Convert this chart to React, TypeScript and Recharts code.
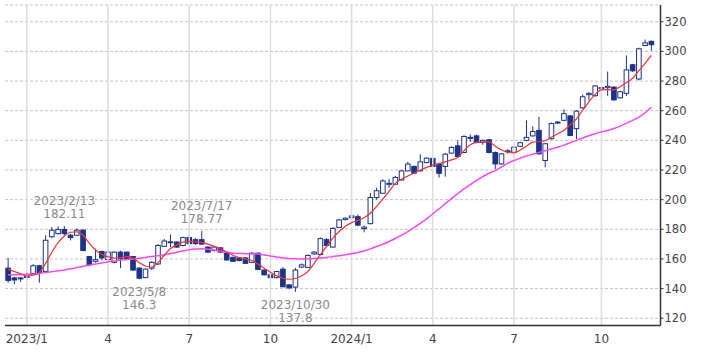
import React from 'react';
import {
  ComposedChart,
  Bar,
  Line,
  XAxis,
  YAxis,
  CartesianGrid,
  ReferenceLine,
  ReferenceDot,
} from 'recharts';

// 週足: 2022/12/12 の週から 104 本
const firstWeek = '2022-12-12';

const opens = [
  153.8, 147.2, 146.6, 147.5, 150.2, 155.4, 151.6, 175, 177.1, 179.9,
  176, 176, 179.4, 161.6, 158.4, 165, 159.5, 157.7, 164.6, 164.6,
  161.6, 153.8, 147.4, 153.8, 156.6, 168.5, 171, 171.4, 169.1, 174.4,
  173, 173, 168, 165.7, 167.5, 163.9, 161.1, 160.7, 160.7, 157.7,
  163.9, 152.5, 149.3, 147.4, 153.1, 142.5, 141, 154.5, 154.3, 163.4,
  163, 173, 168, 181.3, 186.5, 187.8, 188.5, 180.5, 183.8, 201.4,
  204.3, 210.3, 210.4, 213.3, 219.4, 222.4, 219.4, 225, 227.8, 224,
  222.4, 231.4, 236.3, 231.8, 241.6, 243, 238.6, 240.4, 231.8, 224.1,
  232.3, 232, 236, 240, 243, 246.7, 226.4, 241.1, 251.8, 253.5,
  256.5, 247.9, 261.9, 270.8, 270.1, 274.8, 275.5, 275.9, 268.7, 271.7,
  291, 281.4, 304, 306.8,
];
const highs = [
  160.7, 148, 147.8, 151, 156.5, 156, 176, 181.5, 182, 182.11,
  177, 180.5, 180, 162, 166.9, 165.6, 165.5, 165, 165.5, 165,
  162, 154.5, 153.5, 158.5, 170, 173.5, 176.5, 172, 175, 177,
  174, 178.77, 168.5, 168.5, 168, 164.5, 161.5, 161.2, 161, 164.5,
  164.3, 153, 149.8, 152, 154.5, 143, 154, 157, 163, 165.3,
  174.5, 174, 181.5, 187, 188, 189.5, 190, 182.5, 204.5, 208,
  213.8, 214, 216, 220, 225.5, 223, 230.7, 228.5, 228.3, 224.5,
  231.5, 236, 240, 243.5, 244, 243.8, 240.6, 240.8, 232.5, 231.5,
  234, 236, 239, 253.5, 249.5, 255.8, 238.2, 252, 253, 261,
  257, 260.3, 271, 272.5, 277.2, 276.5, 286.4, 276.5, 273.5, 297.3,
  291.6, 302.5, 308, 307.3,
];
const lows = [
  144, 143, 144.5, 146, 149.5, 144, 151, 174, 176.5, 175.5,
  172.5, 175.5, 165.2, 155, 157.5, 159, 159, 157, 153.8, 159.5,
  152, 146.3, 147, 152.5, 156, 168, 168, 167.5, 168.5, 170,
  169.5, 169.5, 164, 165, 164, 159, 158, 158.5, 156.5, 157.2,
  152.5, 148.8, 144.5, 147, 141, 139.5, 137.8, 154, 153.8, 162.8,
  162.5, 168.5, 167.5, 180.8, 186, 187.2, 182, 178, 183.3, 200,
  203.8, 208, 210, 212.8, 219, 217.2, 219, 224.5, 222, 214.8,
  215.5, 231, 228.5, 231.3, 239, 238, 237, 231.2, 220.5, 223.6,
  231, 231.5, 235.5, 239.5, 242.5, 230.3, 221.8, 240.5, 251, 253,
  242.8, 240.8, 261.4, 267, 269.5, 268, 270, 266.8, 268.2, 270,
  286.2, 280.5, 303.5, 300.5,
];
const closes = [
  145.5, 145.8, 147.2, 148.3, 155.4, 150.9, 172.6, 179.4, 179.9, 177.1,
  174.4, 179.4, 165.7, 156.1, 159.5, 160.7, 164.6, 164.6, 160, 160,
  152.5, 147, 153.1, 157.7, 169.1, 172.1, 171.6, 168, 174.4, 170.3,
  170.3, 170, 164.6, 168, 164.6, 159.3, 158.4, 158.9, 157, 163.9,
  152.9, 149.3, 147.4, 151.5, 141.2, 140.5, 152.5, 156, 162.3, 164.6,
  173.7, 169.1, 180.6, 186.3, 187.5, 189, 182.8, 181.5, 201.4, 206,
  212.6, 211, 215, 219.4, 224, 217.8, 225.5, 228, 222.4, 217.8,
  230.7, 235.2, 229.1, 242.6, 242, 238.6, 240, 231.8, 224.1, 230.9,
  233, 235.4, 238.4, 242, 246, 230.9, 237.7, 251.3, 252.3, 258,
  243.3, 259.7, 269.4, 271.7, 276.7, 275.6, 276.4, 267.3, 272.8, 287.5,
  286.9, 301.8, 305.7, 304.5,
];

// 移動平均線 (短期: 赤, 長期: マゼンタ) — 図から読み取り
const maShort = [
  153, 151.5, 150, 148.5, 149, 151, 157, 164.5, 171, 175.5,
  178, 178.3, 176, 170.5, 166, 163, 161.5, 160.5, 160.8, 161.6,
  160.5, 157.5, 155.2, 154.5, 157.5, 162.5, 167, 169.5, 171.3, 171.8,
  171.6, 171.2, 170, 168.5, 166.8, 164.6, 162.5, 161, 160, 158.9,
  156.5, 153.8, 151, 148.6, 147, 146.3, 146.8, 148.6, 151.5, 157,
  163, 168.5, 174, 178.5, 182, 184.5, 186, 187.8, 190.8, 195.5,
  200.3, 205.5, 211, 213.8, 216, 218, 220, 221.8, 223.3, 224.3,
  225.5, 226.8, 228.4, 233, 237, 238.6, 239, 239, 236, 233.5,
  232, 231.6, 233.5, 236, 238.8, 239.2, 239.8, 242.2, 244.5, 246.7,
  250.5, 254.5, 260.3, 266, 271, 274, 274.2, 274, 276.2, 279,
  281.9, 287, 292, 297.3,
];
const maLong = [
  149.3, 149.4, 149.5, 149.6, 149.7, 150.2, 150.8, 151.4, 152, 152.5,
  153.3, 154.2, 155, 155.8, 156.6, 157.3, 158, 158.6, 159.2, 159.7,
  160, 160.5, 161, 161.6, 162.2, 162.8, 163.6, 164.5, 165.4, 166.2,
  166.7, 166.9, 166.6, 166, 165.2, 164.5, 163.9, 163.7, 163.5, 163.4,
  163.3, 162.7, 162, 161.3, 160.7, 160.3, 160.1, 160, 160.1, 160.3,
  160.6, 161, 161.6, 162.2, 162.8, 163.5, 164.3, 165.5, 166.8, 168.4,
  170, 171.8, 173.8, 176, 178.5, 181.2, 184, 187, 190.5, 193.8,
  197.3, 200.7, 204, 207.2, 210.2, 213, 215.5, 217.8, 219.6, 222,
  224.6, 226.4, 228, 229.4, 230.6, 231.8, 233, 234.2, 235.4, 236.8,
  238.4, 240, 241.6, 243.1, 244.5, 245.7, 246.7, 248, 249.6, 251.6,
  253.5, 255.6, 258.6, 262.5,
];

const tickDates = [
  '2023-01-02', '2023-04-03', '2023-07-03', '2023-10-02',
  '2024-01-01', '2024-04-01', '2024-07-01', '2024-10-07',
];
const tickLabels = ['2023/1', '4', '7', '10', '2024/1', '4', '7', '10'];
const priceTicks = [120, 140, 160, 180, 200, 220, 240, 260, 280, 300, 320];

const annotDates = ['2023-02-13', '2023-05-08', '2023-07-17', '2023-10-30'];
const annotLabels = ['2023/2/13', '2023/5/8', '2023/7/17', '2023/10/30'];
const annotValues = [182.11, 146.3, 178.77, 137.8];
const annotSide = ['high', 'low', 'high', 'low'];

const NAVY = '#1b3488';

const weekLabel = (i: number) => {
  const d = new Date(firstWeek + 'T00:00:00Z');
  d.setUTCDate(d.getUTCDate() + i * 7);
  return d.toISOString().slice(0, 10);
};

const data = opens.map((o, i) => ({
  date: weekLabel(i),
  open: o,
  high: highs[i],
  low: lows[i],
  close: closes[i],
  range: [lows[i], highs[i]],
  ma1: maShort[i],
  ma2: maLong[i],
}));

function Candle(props: any) {
  const { x, y, width, height, payload } = props;
  if (!payload) return null;
  const { open, close, high, low } = payload;
  const top = Math.min(y, y + height);
  const bot = Math.max(y, y + height);
  const span = high - low;
  const toY = (p: number) => (span === 0 ? top : top + ((high - p) / span) * (bot - top));
  const cx = x + width / 2;
  const yO = toY(open);
  const yC = toY(close);
  const up = close >= open;
  const bTop = Math.min(yO, yC);
  const bH = Math.max(Math.abs(yO - yC), 1);
  return (
    <g>
      <line x1={cx} x2={cx} y1={top} y2={bot} stroke={NAVY} strokeWidth={1} />
      <rect
        x={cx - 2.3}
        y={bTop}
        width={4.6}
        height={bH}
        fill={up ? '#fff' : NAVY}
        stroke={NAVY}
        strokeWidth={1}
      />
    </g>
  );
}

function makeNote(label: string, value: number, side: string) {
  return (p: any) => {
    const { cx, cy } = p;
    const d1 = side === 'high' ? -25 : 13;
    const d2 = side === 'high' ? -12 : 26;
    const st = { fontSize: 12, fill: '#8a8a8a', fontFamily: 'DejaVu Sans' };
    return (
      <g>
        <text x={cx} y={cy + d1} textAnchor="middle" dominantBaseline="central" style={st}>
          {label}
        </text>
        <text x={cx} y={cy + d2} textAnchor="middle" dominantBaseline="central" style={st}>
          {String(value)}
        </text>
      </g>
    );
  };
}

export default function App() {
  return (
    <div
      style={{
        position: 'absolute',
        left: 0,
        top: 0,
        width: 709,
        height: 354,
        background: '#fff',
        fontFamily: 'DejaVu Sans',
      }}
    >
      <ComposedChart
        width={709}
        height={354}
        data={data}
        margin={{ top: 5, right: 0, bottom: 0, left: 5 }}
      >
        <CartesianGrid
          yAxisId="price"
          horizontal
          vertical={false}
          stroke="#c4c4c4"
          strokeDasharray="3 2"
        />
        {tickDates.map((d) => (
          <ReferenceLine key={d} x={d} yAxisId="price" stroke="#dedede" strokeWidth={1.5} />
        ))}
        <XAxis
          dataKey="date"
          ticks={tickDates}
          interval={0}
          tickFormatter={(v: string) => tickLabels[tickDates.indexOf(v)] ?? ''}
          height={28.5}
          padding={{ left: 0, right: 6 }}
          tickSize={0}
          tickMargin={9}
          tick={{ fontSize: 12, fill: '#444', fontFamily: 'DejaVu Sans' }}
          axisLine={{ stroke: '#333', strokeWidth: 1.5 }}
        />
        <XAxis
          xAxisId="top"
          dataKey="date"
          orientation="top"
          height={0}
          tick={false}
          tickLine={false}
          padding={{ left: 0, right: 6 }}
          axisLine={{ stroke: '#333', strokeWidth: 1.5 }}
        />
        <YAxis
          yAxisId="price"
          orientation="right"
          domain={[115.1, 331.3]}
          allowDataOverflow
          ticks={priceTicks}
          interval={0}
          width={48.5}
          tickSize={3}
          tickMargin={1}
          tickLine={{ stroke: '#333' }}
          tick={{ fontSize: 11.5, fill: '#444', fontFamily: 'DejaVu Sans' }}
          axisLine={{ stroke: '#333', strokeWidth: 1.5 }}
        />
        <YAxis
          yAxisId="left"
          orientation="left"
          domain={[115.1, 331.3]}
          width={0}
          tick={false}
          tickLine={false}
          axisLine={{ stroke: '#333', strokeWidth: 1.5 }}
        />
        <Line
          yAxisId="price"
          type="monotone"
          dataKey="ma2"
          stroke="#ff44ff"
          strokeWidth={1.5}
          dot={false}
          activeDot={false}
          isAnimationActive={false}
        />
        <Bar
          yAxisId="price"
          dataKey="range"
          shape={<Candle />}
          isAnimationActive={false}
        />
        <Line
          yAxisId="price"
          type="monotone"
          dataKey="ma1"
          stroke="#ff3030"
          strokeWidth={1.2}
          dot={false}
          activeDot={false}
          isAnimationActive={false}
        />
        {annotDates.map((d, i) => (
          <ReferenceDot
            key={d}
            yAxisId="price"
            x={d}
            y={annotValues[i]}
            r={0}
            shape={makeNote(annotLabels[i], annotValues[i], annotSide[i])}
          />
        ))}
      </ComposedChart>
    </div>
  );
}
